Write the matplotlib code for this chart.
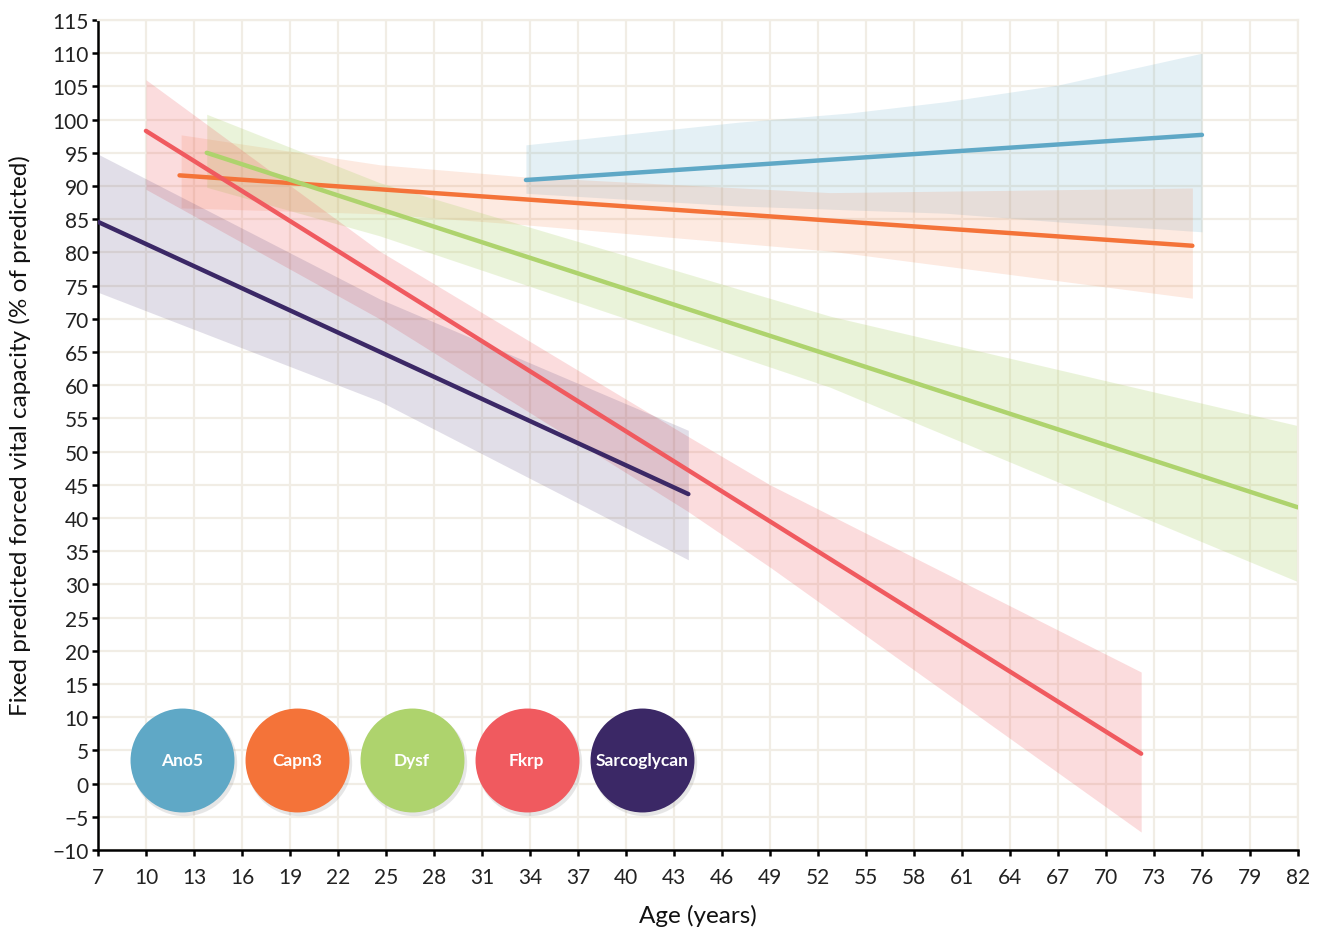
## Fixed predicted FVC by age, per LGMD subtype

import numpy as np
import matplotlib.pyplot as plt
from matplotlib import transforms

plt.rcParams['font.family'] = ['Lato', 'DejaVu Sans']

# subtype names and colours
groups = ['Ano5', 'Capn3', 'Dysf', 'Fkrp', 'Sarcoglycan']
colors = ['#5fa8c6', '#f47339', '#aed36d', '#f05a5f', '#3b2866']
band_alpha = [0.17, 0.15, 0.25, 0.21, 0.15]

# fitted lines (age at start/end, value at start/end)
ano5_x = [33.75, 76]
ano5_y = [90.9, 97.7]
capn3_x = [12.1, 75.4]
capn3_y = [91.6, 81.0]
dysf_x = [13.8, 82]
dysf_y = [95.0, 41.6]
fkrp_x = [10, 72.2]
fkrp_y = [98.3, 4.5]
sarco_x = [7, 43.9]
sarco_y = [84.6, 43.6]

# confidence bands
ano5_band_x = [33.75, 47, 54, 60, 67, 76]
ano5_hi = [96.2, 99.6, 101.0, 102.7, 105.2, 110.0]
ano5_lo = [88.9, 87.0, 86.4, 85.9, 84.6, 83.1]
capn3_band_x = [12.2, 24.6, 33.5, 52.75, 75.4]
capn3_hi = [97.7, 93.2, 91.4, 89.0, 89.7]
capn3_lo = [86.7, 85.8, 84.2, 80.2, 73.1]
dysf_band_x = [13.8, 24.6, 52.75, 82]
dysf_hi = [100.8, 90.5, 70.4, 53.9]
dysf_lo = [89.8, 82.5, 59.7, 30.4]
fkrp_band_x = [10, 24.6, 43.8, 49, 72.2]
fkrp_hi = [106.0, 80.2, 52.4, 45.0, 16.8]
fkrp_lo = [89.5, 70.0, 41.1, 32.6, -7.3]
sarco_band_x = [7, 24.6, 43.9]
sarco_hi = [94.8, 73.0, 53.2]
sarco_lo = [74.0, 57.6, 33.7]

lines = [(ano5_x, ano5_y), (capn3_x, capn3_y), (dysf_x, dysf_y),
         (fkrp_x, fkrp_y), (sarco_x, sarco_y)]
bands = [(ano5_band_x, ano5_hi, ano5_lo), (capn3_band_x, capn3_hi, capn3_lo),
         (dysf_band_x, dysf_hi, dysf_lo), (fkrp_band_x, fkrp_hi, fkrp_lo),
         (sarco_band_x, sarco_hi, sarco_lo)]

x_ticks = np.arange(7, 83, 3)
y_ticks = np.arange(-10, 116, 5)

fig = plt.figure(figsize=(13.2, 9.29), dpi=100)
ax = fig.add_axes([0.0742, 0.0840, 0.9091, 0.8934])

grid_col = '#f1ede5'
ax.set_xlim(7, 82)
ax.set_ylim(-10, 115)
ax.set_xticks(x_ticks)
ax.set_yticks(y_ticks)
ax.grid(True, color=grid_col, linewidth=1.6, zorder=0)
ax.set_axisbelow(True)
for s in ['top', 'right']:
    ax.spines[s].set_color(grid_col)
    ax.spines[s].set_linewidth(1.6)
for s in ['left', 'bottom']:
    ax.spines[s].set_color('black')
    ax.spines[s].set_linewidth(1.8)

for (bx, hi, lo), c, a in zip(bands, colors, band_alpha):
    ax.fill_between(bx, lo, hi, color=c, alpha=a, linewidth=0, zorder=1)

for (lx, ly), c in zip(lines, colors):
    ax.plot(lx, ly, color=c, linewidth=3.2, solid_capstyle='round', zorder=3)

ax.tick_params(axis='both', direction='out', length=4.5, width=1.8, color='black',
               labelsize=15, labelcolor='#222222')
ax.tick_params(axis='y', pad=2)
ax.tick_params(axis='x', pad=8)
for lab in ax.get_xticklabels() + ax.get_yticklabels():
    lab.set_family(['Lato Light', 'Lato', 'DejaVu Sans'])
    lab.set_fontweight('normal')

ax.set_xlabel('Age (years)', fontsize=17.5, labelpad=12, color='#111111')
ax.set_ylabel('Fixed predicted forced vital capacity (% of predicted)', fontsize=17.5,
              color='#111111')
ax.yaxis.set_label_coords(-0.056, 0.5)

# legend bubbles
cx0, dcx, cy = 0.07, 0.0958, 0.1084
shadow_tr = transforms.offset_copy(ax.transAxes, fig=fig, x=2, y=-3, units='dots')
for i, (g, c) in enumerate(zip(groups, colors)):
    cx = cx0 + i * dcx
    ax.scatter([cx], [cy], s=5750, color='#777777', alpha=0.18, linewidths=0,
               transform=shadow_tr, zorder=4, clip_on=False)
    ax.scatter([cx], [cy], s=5600, color=c, linewidths=0,
               transform=ax.transAxes, zorder=5, clip_on=False)
    ax.text(cx, cy, g, transform=ax.transAxes, ha='center', va='center',
            color='white', fontsize=12.5, fontweight='bold', zorder=6)

fig.savefig('out.png', dpi=100)
